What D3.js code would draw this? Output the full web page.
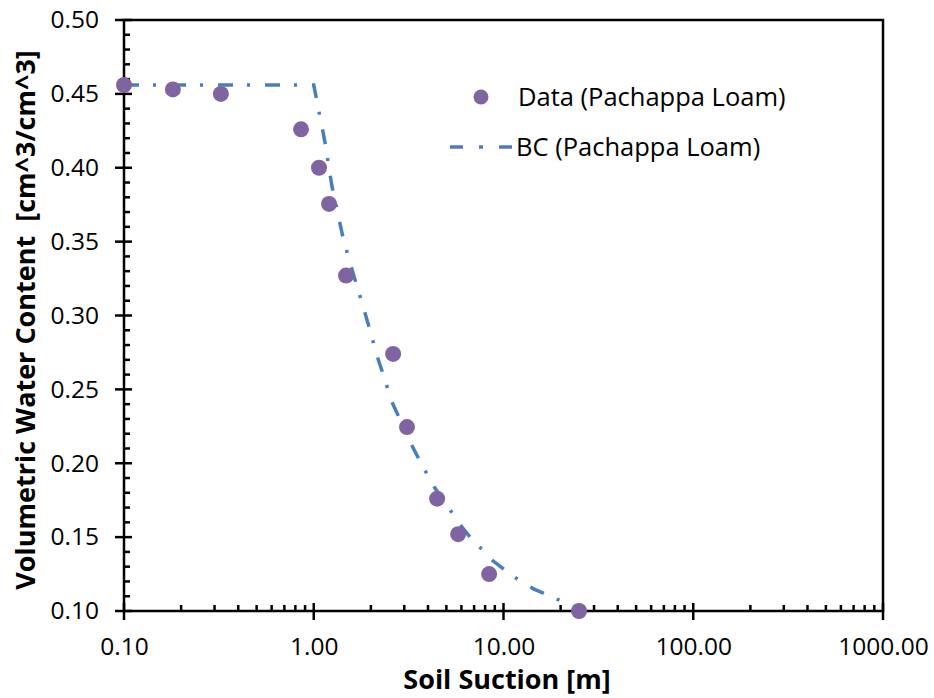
<!DOCTYPE html>
<html>
<head>
<meta charset="utf-8">
<script src="https://cdn.jsdelivr.net/npm/d3@7"></script>
<style>
  html, body { margin: 0; padding: 0; background: #fff; }
  svg { display: block; }
  text { font-family: "Open Sans", "Liberation Sans", sans-serif; fill: #000; }
</style>
</head>
<body>
<svg id="chart" width="934" height="698"></svg>
<script>
// ---- Data ----
const dataSuction = [0.1, 0.181, 0.324, 0.857, 1.066, 1.204, 1.48, 2.62, 3.10, 4.47, 5.77, 8.40, 25.0];
const dataTheta   = [0.456, 0.453, 0.450, 0.426, 0.400, 0.3755, 0.327, 0.274, 0.2245, 0.176, 0.152, 0.125, 0.100];

const bcSuction = [0.1, 1.0, 1.089, 1.147, 1.245, 1.43, 1.55, 1.83, 1.98, 2.15, 2.38, 2.55, 3.29, 3.71, 4.36, 6.03, 6.67, 8.79, 11.07, 14.4, 18.3, 25.0];
const bcTheta   = [0.456, 0.456, 0.432, 0.417, 0.388, 0.352, 0.336, 0.305, 0.290, 0.273, 0.256, 0.243, 0.212, 0.199, 0.183, 0.157, 0.150, 0.134, 0.124, 0.115, 0.109, 0.102];

const xTickValues = [0.1, 1, 10, 100, 1000];
const xTickLabels = ["0.10", "1.00", "10.00", "100.00", "1000.00"];
const yTickValues = [0.10, 0.15, 0.20, 0.25, 0.30, 0.35, 0.40, 0.45, 0.50];
const yTickLabels = ["0.10", "0.15", "0.20", "0.25", "0.30", "0.35", "0.40", "0.45", "0.50"];

const seriesNames = ["Data (Pachappa Loam)", "BC (Pachappa Loam)"];
const xTitle = "Soil Suction [m]";
const yTitle = "Volumetric Water Content\u00A0 [cm^3/cm^3]";

// ---- Layout ----
const pL = 124, pR = 883, pT = 20, pB = 611;
const svg = d3.select("#chart");

const x = d3.scaleLog().domain([0.1, 1000]).range([pL, pR]);
const y = d3.scaleLinear().domain([0.10, 0.50]).range([pB, pT]);

const dotColor = "#8064A2";
const lineColor = "#4A7EBB";

svg.append("clipPath").attr("id", "clip")
  .append("rect").attr("x", pL).attr("y", pT).attr("width", pR - pL).attr("height", pB - pT);

// Minor ticks
const xMinor = [];
for (let d = 0.1; d < 1000; d *= 10) {
  for (let k = 2; k <= 9; k++) xMinor.push(+(d * k).toPrecision(6));
}
const yMinor = d3.range(10, 51).map(v => v / 100).filter(v => Math.round(v * 100) % 5 !== 0);

const axisG = svg.append("g");

// x axis
const xAxis = d3.axisBottom(x).tickValues(xTickValues)
  .tickFormat((d, i) => xTickLabels[i]).tickSize(0).tickPadding(0);
const gx = axisG.append("g").attr("transform", `translate(0,${pB})`).call(xAxis);
gx.select(".domain").remove();
gx.selectAll("text").style("font-size", "24.5px").attr("y", 44).attr("dy", null);

axisG.selectAll(".xmaj").data(xTickValues).enter().append("line")
  .attr("x1", d => x(d)).attr("x2", d => x(d))
  .attr("y1", pB - 8).attr("y2", pB + 9)
  .attr("stroke", "#000").attr("stroke-width", 2.5);
axisG.selectAll(".xmin").data(xMinor).enter().append("line")
  .attr("x1", d => x(d)).attr("x2", d => x(d))
  .attr("y1", pB - 6).attr("y2", pB)
  .attr("stroke", "#000").attr("stroke-width", 2.5);

// y axis
const yAxis = d3.axisLeft(y).tickValues(yTickValues)
  .tickFormat((d, i) => yTickLabels[i]).tickSize(0).tickPadding(25);
const gy = axisG.append("g").attr("transform", `translate(${pL},0)`).call(yAxis);
gy.select(".domain").remove();
gy.selectAll("text").style("font-size", "24.5px");

axisG.selectAll(".ymaj").data(yTickValues).enter().append("line")
  .attr("x1", pL - 9).attr("x2", pL + 8)
  .attr("y1", d => y(d)).attr("y2", d => y(d))
  .attr("stroke", "#000").attr("stroke-width", 2.5);
axisG.selectAll(".ymin").data(yMinor).enter().append("line")
  .attr("x1", pL).attr("x2", pL + 6)
  .attr("y1", d => y(d)).attr("y2", d => y(d))
  .attr("stroke", "#000").attr("stroke-width", 2.5);

// Frame
axisG.append("path")
  .attr("d", `M${pL},${pT} L${pR},${pT} L${pR},${pB} L${pL},${pB} Z`)
  .attr("fill", "none").attr("stroke", "#000").attr("stroke-width", 2.5);

// BC line
const bcData = bcSuction.map((s, i) => [s, bcTheta[i]]);
const line = d3.line().x(d => x(d[0])).y(d => y(d[1]));
svg.append("path").datum(bcData)
  .attr("clip-path", "url(#clip)")
  .attr("d", line)
  .attr("fill", "none")
  .attr("stroke", lineColor)
  .attr("stroke-width", 3.5)
  .attr("stroke-dasharray", "15,14,3,15");

// Data points
const pts = dataSuction.map((s, i) => [s, dataTheta[i]]);
svg.append("g").selectAll("circle").data(pts).enter().append("circle")
  .attr("cx", d => x(d[0])).attr("cy", d => y(d[1])).attr("r", 8)
  .attr("fill", dotColor);

// Legend
const lg = svg.append("g");
lg.append("circle").attr("cx", 481).attr("cy", 97).attr("r", 7.5).attr("fill", dotColor);
lg.append("text").attr("x", 518).attr("y", 97).attr("dy", "0.35em")
  .style("font-size", "25.5px").text(seriesNames[0]);
lg.append("line").attr("x1", 450).attr("x2", 512).attr("y1", 147).attr("y2", 147)
  .attr("stroke", lineColor).attr("stroke-width", 3.5)
  .attr("stroke-dasharray", "13,16,4,16,13");
lg.append("text").attr("x", 516).attr("y", 147).attr("dy", "0.35em")
  .style("font-size", "25.5px").text(seriesNames[1]);

// Axis titles
svg.append("text").attr("x", 507).attr("y", 689).attr("text-anchor", "middle")
  .style("font-size", "27px").style("font-weight", "bold").text(xTitle);
svg.append("text").attr("transform", `translate(26,320) rotate(-90)`)
  .attr("text-anchor", "middle").attr("dy", "0.35em")
  .style("font-size", "27px").style("font-weight", "bold").text(yTitle);
</script>
</body>
</html>
